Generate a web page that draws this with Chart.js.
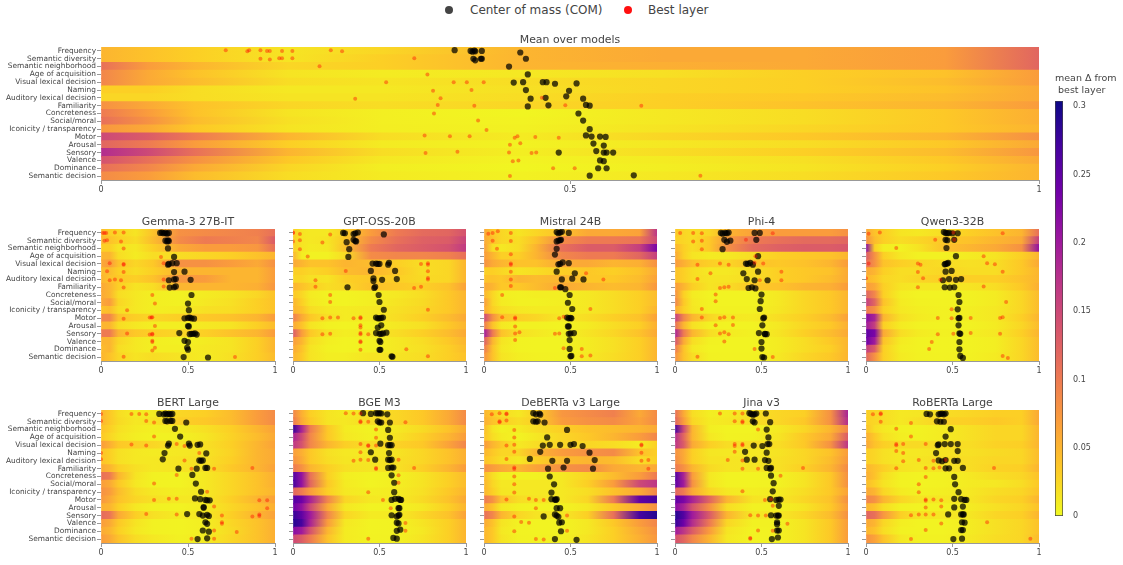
<!DOCTYPE html>
<html><head><meta charset="utf-8">
<style>
html,body{margin:0;padding:0;background:#fff;overflow:hidden;width:1123px;height:565px}
canvas{position:absolute;display:block}
#lg{position:absolute;left:0;top:0;font:12px "DejaVu Sans",sans-serif;color:#444}
#lg span{position:absolute;white-space:nowrap;line-height:20px;top:0}
#lg i{position:absolute;width:8px;height:8px;border-radius:50%;top:6px}
</style>
<script src="https://cdn.jsdelivr.net/npm/chart.js@4"></script>
</head><body>
<div id="lg"></div>
<script>
const categories=["Frequency","Semantic diversity","Semantic neighborhood","Age of acquisition","Visual lexical decision","Naming","Auditory lexical decision","Familiarity","Concreteness","Social/moral","Iconicity / transparency","Motor","Arousal","Sensory","Valence","Dominance","Semantic decision"];
const heatStops=[0,.05,.1,.2,.3,.45,.6,.75,.9,1];
const colorTicks=[0,.05,.1,.15,.2,.25,.3];
const xTicks=[0,.5,1];

const mainHeat=[[.05,.04,.03,.015,.025,.05,.06,.06,.07,.12],[.05,.04,.03,.015,.03,.05,.06,.06,.07,.12],[.11,.07,.05,.025,.03,.05,.055,.06,.07,.12],[.09,.06,.04,.015,.01,.012,.018,.03,.04,.07],[.09,.06,.045,.02,.015,.02,.025,.03,.045,.07],[.03,.03,.02,.012,.012,.018,.025,.03,.04,.06],[.025,.025,.02,.015,.015,.02,.03,.035,.045,.06],[.08,.06,.04,.025,.02,.025,.03,.04,.05,.07],[.10,.07,.04,.015,.007,.003,.012,.02,.035,.055],[.11,.08,.045,.018,.007,.004,.012,.02,.035,.055],[.075,.06,.035,.015,.008,.006,.015,.025,.035,.05],[.15,.13,.10,.05,.02,.01,.025,.035,.05,.08],[.12,.10,.07,.03,.01,.005,.012,.02,.035,.06],[.18,.15,.11,.05,.02,.008,.02,.03,.045,.075],[.14,.11,.08,.035,.012,.004,.01,.018,.035,.06],[.11,.09,.06,.025,.008,.003,.008,.015,.03,.05],[.085,.07,.045,.02,.01,.006,.012,.02,.035,.05]];
const gemmaHeat=[[.045,.03,.025,.015,.04,.08,.085,.09,.095,.11],[.05,.04,.03,.02,.045,.085,.1,.095,.09,.13],[.03,.03,.015,.012,.03,.06,.07,.07,.075,.11],[.05,.05,.02,.01,.02,.02,.025,.03,.04,.05],[.06,.07,.04,.025,.035,.08,.08,.07,.06,.08],[.045,.045,.03,.02,.03,.05,.05,.05,.05,.07],[.05,.04,.035,.03,.04,.075,.07,.05,.05,.07],[.06,.05,.03,.015,.02,.05,.05,.05,.055,.075],[.06,.05,.02,.012,.008,.006,.01,.015,.025,.04],[.06,.07,.025,.012,.008,.006,.012,.018,.03,.04],[.04,.045,.02,.012,.008,.01,.018,.02,.03,.04],[.09,.09,.04,.03,.025,.03,.035,.04,.05,.07],[.05,.05,.02,.012,.008,.008,.012,.015,.03,.045],[.10,.10,.05,.035,.03,.025,.03,.04,.05,.07],[.05,.05,.025,.012,.008,.006,.01,.015,.03,.05],[.045,.05,.02,.012,.008,.008,.012,.015,.03,.05],[.05,.04,.025,.015,.02,.015,.01,.018,.03,.045]];
const gptHeat=[[.03,.015,.012,.012,.03,.07,.1,.115,.12,.14],[.03,.015,.012,.015,.035,.085,.11,.125,.13,.155],[.03,.015,.01,.012,.04,.1,.12,.13,.14,.165],[.05,.01,.006,.006,.02,.085,.09,.09,.095,.11],[.06,.05,.04,.04,.05,.045,.03,.02,.025,.05],[.03,.03,.025,.03,.045,.05,.035,.02,.025,.05],[.025,.025,.018,.015,.03,.035,.03,.022,.025,.05],[.05,.04,.03,.02,.025,.04,.035,.03,.04,.065],[.035,.025,.01,.005,.004,.008,.012,.02,.035,.05],[.05,.03,.012,.006,.004,.008,.015,.022,.035,.05],[.05,.04,.02,.012,.01,.012,.018,.025,.035,.05],[.095,.06,.035,.018,.01,.012,.02,.03,.045,.06],[.06,.04,.015,.006,.004,.006,.012,.018,.035,.05],[.13,.07,.035,.015,.008,.012,.02,.03,.045,.06],[.07,.05,.02,.008,.004,.006,.012,.02,.035,.05],[.06,.04,.015,.006,.004,.006,.012,.018,.03,.045],[.05,.035,.015,.008,.008,.015,.015,.02,.03,.04]];
const mistralHeat=[[.06,.035,.025,.015,.025,.04,.06,.06,.065,.17],[.06,.04,.025,.02,.04,.085,.1,.1,.105,.15],[.07,.02,.012,.02,.05,.11,.13,.13,.16,.23],[.07,.05,.03,.03,.05,.09,.1,.1,.12,.16],[.08,.06,.05,.04,.04,.06,.06,.05,.055,.08],[.03,.03,.025,.015,.02,.03,.035,.03,.04,.06],[.04,.04,.035,.05,.045,.05,.035,.035,.045,.065],[.06,.05,.035,.035,.045,.06,.05,.045,.05,.075],[.05,.025,.008,.006,.008,.008,.012,.02,.03,.045],[.07,.025,.01,.006,.006,.008,.012,.02,.03,.045],[.06,.03,.018,.012,.01,.01,.012,.02,.03,.05],[.15,.08,.04,.03,.025,.012,.02,.03,.04,.065],[.10,.04,.012,.006,.006,.004,.01,.02,.03,.055],[.20,.10,.04,.018,.012,.006,.015,.025,.04,.06],[.13,.05,.015,.005,.004,.004,.01,.018,.03,.05],[.10,.04,.012,.005,.004,.004,.01,.018,.03,.05],[.08,.04,.015,.008,.006,.005,.012,.02,.03,.05]];
const phiHeat=[[.035,.025,.02,.025,.05,.065,.07,.07,.07,.08],[.03,.025,.02,.035,.07,.10,.11,.115,.115,.12],[.05,.03,.02,.035,.08,.115,.125,.13,.13,.135],[.06,.03,.015,.01,.012,.02,.03,.035,.04,.05],[.07,.055,.04,.03,.025,.04,.035,.04,.05,.07],[.04,.03,.02,.012,.012,.02,.03,.035,.04,.06],[.04,.03,.02,.015,.015,.02,.03,.035,.045,.06],[.07,.05,.03,.015,.02,.035,.04,.05,.055,.07],[.08,.03,.01,.004,.004,.004,.012,.025,.035,.05],[.09,.035,.012,.005,.004,.004,.012,.025,.035,.05],[.06,.03,.014,.006,.006,.006,.014,.025,.035,.05],[.16,.09,.05,.025,.012,.01,.02,.03,.045,.065],[.11,.05,.018,.006,.004,.004,.012,.025,.035,.055],[.19,.1,.05,.02,.01,.006,.015,.03,.045,.06],[.14,.06,.02,.006,.004,.004,.01,.02,.035,.05],[.10,.04,.012,.004,.004,.004,.01,.02,.03,.05],[.08,.04,.02,.006,.005,.005,.012,.025,.035,.05]];
const qwenHeat=[[.06,.04,.03,.015,.012,.02,.03,.04,.05,.11],[.08,.045,.03,.02,.025,.035,.04,.05,.06,.16],[.22,.03,.008,.006,.015,.04,.05,.06,.08,.21],[.13,.08,.03,.012,.006,.006,.01,.015,.03,.05],[.11,.08,.04,.03,.025,.02,.018,.02,.035,.06],[.06,.05,.03,.02,.02,.025,.02,.02,.035,.05],[.05,.04,.025,.02,.025,.03,.03,.03,.04,.05],[.07,.06,.03,.015,.012,.012,.015,.02,.035,.055],[.12,.09,.03,.008,.004,.004,.006,.01,.025,.045],[.16,.12,.04,.01,.006,.005,.006,.01,.025,.045],[.10,.08,.03,.012,.008,.006,.008,.012,.025,.045],[.22,.19,.05,.018,.01,.006,.008,.012,.03,.05],[.20,.16,.03,.01,.005,.004,.005,.01,.025,.045],[.25,.23,.06,.02,.01,.006,.008,.012,.03,.05],[.24,.2,.04,.01,.005,.004,.005,.008,.025,.045],[.16,.13,.03,.008,.005,.004,.005,.008,.025,.045],[.12,.08,.03,.01,.006,.005,.006,.01,.025,.045]];
const bertHeat=[[.05,.035,.02,.01,.01,.025,.03,.045,.07,.085],[.05,.035,.022,.012,.015,.03,.035,.045,.07,.085],[.04,.03,.018,.01,.007,.01,.018,.03,.05,.065],[.035,.025,.015,.008,.005,.006,.014,.028,.045,.06],[.07,.055,.035,.03,.025,.015,.018,.03,.05,.065],[.04,.03,.018,.012,.01,.012,.016,.028,.05,.06],[.04,.03,.018,.012,.012,.015,.018,.03,.05,.06],[.06,.05,.03,.018,.012,.015,.018,.035,.05,.065],[.11,.10,.05,.015,.006,.004,.012,.025,.04,.055],[.07,.06,.035,.012,.005,.004,.012,.025,.04,.055],[.08,.07,.045,.02,.012,.008,.012,.025,.04,.05],[.075,.06,.04,.025,.018,.012,.012,.03,.05,.065],[.055,.05,.03,.012,.006,.004,.01,.025,.04,.055],[.115,.105,.06,.03,.018,.01,.012,.03,.05,.065],[.07,.06,.035,.015,.006,.004,.008,.025,.04,.055],[.06,.05,.03,.012,.006,.004,.008,.022,.04,.055],[.07,.06,.04,.02,.012,.006,.01,.025,.04,.055]];
const bgeHeat=[[.09,.055,.03,.015,.01,.018,.025,.035,.06,.085],[.10,.06,.035,.015,.012,.02,.025,.035,.06,.085],[.28,.19,.10,.035,.01,.005,.012,.022,.04,.06],[.19,.15,.09,.035,.012,.006,.016,.03,.05,.07],[.17,.14,.09,.05,.03,.02,.028,.035,.065,.09],[.07,.055,.035,.018,.012,.012,.016,.025,.04,.055],[.08,.06,.035,.02,.014,.014,.018,.025,.04,.055],[.10,.08,.05,.03,.018,.014,.018,.03,.05,.07],[.26,.21,.11,.03,.008,.004,.006,.015,.03,.045],[.27,.21,.12,.035,.01,.004,.008,.016,.03,.045],[.12,.10,.07,.03,.012,.008,.01,.018,.035,.05],[.26,.24,.19,.09,.025,.012,.01,.022,.04,.06],[.24,.21,.15,.06,.012,.004,.005,.012,.03,.05],[.28,.25,.20,.09,.025,.01,.01,.025,.04,.065],[.29,.27,.19,.07,.012,.004,.005,.015,.03,.05],[.22,.20,.14,.05,.01,.004,.005,.012,.03,.05],[.15,.13,.10,.04,.01,.005,.006,.015,.03,.05]];
const debertaHeat=[[.05,.035,.02,.012,.03,.075,.085,.095,.06,.085],[.055,.04,.03,.02,.03,.07,.08,.085,.065,.085],[.045,.015,.006,.01,.02,.03,.04,.045,.05,.06],[.04,.02,.01,.004,.012,.025,.035,.05,.07,.09],[.07,.05,.035,.012,.02,.025,.025,.02,.01,.03],[.05,.035,.025,.025,.05,.07,.08,.085,.04,.03],[.04,.03,.02,.012,.03,.045,.05,.045,.02,.03],[.08,.07,.06,.05,.065,.08,.085,.06,.05,.06],[.045,.02,.006,.005,.006,.012,.025,.045,.07,.10],[.05,.025,.012,.012,.012,.012,.03,.07,.15,.17],[.05,.03,.014,.012,.012,.012,.02,.04,.06,.09],[.10,.08,.04,.02,.015,.012,.025,.10,.25,.27],[.06,.04,.012,.006,.004,.004,.012,.035,.06,.08],[.11,.09,.05,.025,.015,.012,.03,.11,.27,.29],[.06,.04,.015,.006,.004,.004,.012,.035,.07,.09],[.05,.035,.012,.005,.004,.004,.012,.03,.06,.08],[.05,.035,.015,.006,.005,.006,.015,.03,.055,.075]];
const jinaHeat=[[.11,.06,.02,.008,.01,.018,.025,.03,.08,.19],[.12,.07,.025,.01,.012,.02,.025,.035,.08,.18],[.27,.15,.05,.008,.004,.004,.012,.025,.05,.09],[.18,.12,.05,.012,.005,.006,.015,.035,.06,.13],[.17,.13,.06,.03,.02,.02,.02,.035,.08,.17],[.08,.06,.03,.014,.012,.012,.016,.025,.04,.07],[.085,.06,.03,.016,.015,.014,.018,.025,.045,.075],[.10,.08,.05,.022,.015,.014,.018,.03,.05,.085],[.26,.19,.07,.012,.004,.004,.006,.015,.035,.08],[.25,.2,.08,.014,.005,.004,.006,.015,.035,.08],[.12,.1,.06,.025,.012,.008,.01,.02,.035,.065],[.25,.23,.19,.12,.05,.015,.012,.025,.04,.08],[.22,.19,.14,.08,.02,.006,.006,.015,.035,.07],[.29,.26,.20,.13,.05,.012,.012,.025,.045,.08],[.28,.24,.18,.10,.025,.006,.006,.015,.035,.07],[.2,.17,.13,.07,.015,.004,.006,.015,.035,.07],[.14,.12,.09,.05,.012,.004,.006,.015,.035,.07]];
const robertaHeat=[[.03,.025,.02,.012,.014,.02,.025,.03,.03,.06],[.03,.025,.02,.012,.018,.028,.03,.035,.03,.06],[.04,.02,.012,.006,.005,.01,.018,.025,.025,.05],[.055,.035,.018,.008,.006,.01,.018,.025,.025,.05],[.06,.04,.03,.022,.022,.02,.02,.028,.03,.05],[.03,.025,.018,.012,.012,.016,.018,.022,.025,.045],[.03,.025,.018,.012,.014,.02,.02,.025,.025,.045],[.05,.04,.03,.016,.012,.016,.02,.028,.03,.05],[.055,.04,.02,.006,.004,.006,.012,.02,.025,.04],[.045,.03,.016,.005,.004,.006,.01,.012,.02,.035],[.06,.05,.025,.01,.006,.008,.012,.02,.025,.04],[.09,.08,.05,.025,.015,.012,.014,.025,.03,.05],[.05,.04,.02,.006,.004,.005,.01,.018,.025,.04],[.12,.11,.075,.03,.016,.012,.014,.025,.03,.05],[.06,.05,.025,.008,.004,.004,.01,.018,.025,.04],[.05,.04,.02,.006,.004,.004,.01,.018,.025,.04],[.08,.065,.04,.012,.006,.006,.012,.02,.025,.045]];

const mainCom=[[.377,-.1],[.394,0],[.396,.1],[.398,-.05],[.399,.05],[.406,0],[.447,.2],[.397,1],[.399,1.2],[.405,1],[.406,1],[.453,1],[.435,2],[.455,3],[.44,4.05],[.45,4],[.471,4],[.475,4],[.484,4.2],[.507,4.15],[.453,5],[.499,5.1],[.496,5.8],[.458,6.1],[.474,6],[.514,6.1],[.517,6.9],[.521,7],[.455,7.1],[.477,6.95],[.509,8],[.514,8.9],[.521,10],[.517,10.8],[.523,10.95],[.532,10.95],[.538,11],[.525,11.85],[.536,12.1],[.488,13],[.528,12.8],[.536,13],[.539,13],[.546,13],[.532,14],[.536,14.1],[.53,15],[.539,15],[.521,15.95],[.568,15.9]];
const mainBest=[[.133,-.1],[.156,.05],[.158,-.1],[.17,-.1],[.177,0],[.18,0],[.193,0],[.204,0],[.245,-.1],[.257,.05],[.17,1],[.18,1.1],[.19,.95],[.193,.95],[.204,.95],[.334,.95],[.233,1.95],[.348,3],[.304,4],[.376,4],[.39,4],[.408,4],[.354,5.1],[.395,5],[.271,6.1],[.362,6.05],[.47,6],[.359,6.9],[.398,7],[.495,6.95],[.576,7],[.355,8],[.402,8.9],[.411,10.1],[.345,10.8],[.372,10.9],[.393,10.9],[.441,11.1],[.444,10.9],[.463,11],[.488,11.1],[.436,12],[.447,11.8],[.346,13.05],[.38,12.9],[.435,13],[.459,13.05],[.464,13],[.439,14.1],[.445,14],[.482,15],[.505,15],[.436,16],[.639,15.95]];
const gemmaCom=[[.34,0],[.35,-.05],[.36,.05],[.37,0],[.38,.1],[.39,0],[.37,1],[.38,1.1],[.385,.95],[.39,1.05],[.385,2],[.42,3.1],[.385,4.1],[.39,4],[.41,3.9],[.435,3.9],[.42,5.05],[.48,5],[.39,6.1],[.42,6],[.43,5.95],[.515,6.05],[.395,7.05],[.42,7],[.43,6.9],[.52,8],[.50,9.1],[.505,9.95],[.48,11],[.50,10.95],[.51,10.9],[.52,11],[.535,11.05],[.50,12],[.505,12.05],[.45,12.9],[.51,13.05],[.52,13],[.53,13],[.54,12.95],[.55,13.1],[.48,13.9],[.50,14.05],[.495,14.8],[.50,15.05],[.475,16],[.615,16.05]];
const gemmaBest=[[.01,0],[.02,0],[.03,0],[.08,-.05],[.13,-.05],[.02,1],[.035,.95],[.115,1.1],[.13,2],[.345,3.1],[.05,3.9],[.13,4],[.13,4.1],[.36,3.9],[.035,4.95],[.13,5.05],[.05,6.1],[.08,6],[.115,6.1],[.36,6],[.13,7.05],[.36,6.9],[.295,8],[.31,9.1],[.15,9.95],[.13,11.05],[.28,10.9],[.29,10.9],[.295,10.85],[.31,12],[.15,12.95],[.28,13.1],[.295,13],[.295,13.1],[.295,13.9],[.295,14.05],[.31,14.8],[.295,15.15],[.13,15.95],[.77,16]];
const gptCom=[[.29,0],[.30,.05],[.35,.15],[.36,.05],[.375,-.05],[.525,.2],[.31,1.2],[.35,.9],[.36,1.05],[.365,1.1],[.325,2.1],[.32,3.1],[.46,3.95],[.48,3.95],[.49,4],[.50,4],[.55,4.1],[.555,3.85],[.45,4.9],[.59,4.9],[.465,5.85],[.465,6.2],[.515,6.05],[.60,5.95],[.315,7],[.47,7.1],[.475,6.95],[.495,8],[.50,8.9],[.525,9.9],[.48,10.9],[.49,11],[.50,11],[.51,10.95],[.52,10.9],[.49,12.2],[.51,11.9],[.48,12.9],[.50,13],[.51,13],[.52,12.95],[.54,12.85],[.50,13.9],[.505,14.05],[.50,15.05],[.505,15.05],[.57,15.9],[.575,15.95]];
const gptBest=[[0,-.05],[0,0],[.04,.15],[.215,.2],[0,1.1],[.04,.95],[.17,1.25],[.04,2.1],[.085,3.05],[.74,4],[.78,3.9],[.78,4.1],[.305,4.9],[.78,4.95],[.13,6.1],[.78,5.8],[.78,6],[.13,6.95],[.70,7.1],[.74,6.95],[.215,8],[.215,8.9],[.78,9.9],[.17,11],[.215,10.9],[.26,10.9],[.35,11],[.39,10.85],[.39,11],[.39,11.9],[.39,12.2],[.17,13.05],[.215,13],[.39,12.9],[.39,13.05],[.435,13.05],[.39,13.95],[.39,14.1],[.39,15.05],[.655,15],[.78,15.9]];
const mistralCom=[[.42,-.1],[.43,.05],[.44,-.05],[.45,-.15],[.49,0],[.42,1.1],[.43,1],[.44,.95],[.445,.9],[.42,2.05],[.41,2.8],[.43,4.05],[.44,4],[.455,3.8],[.49,3.9],[.42,5],[.525,5.2],[.45,6],[.51,5.9],[.575,6],[.44,7],[.445,7],[.47,7.25],[.495,8],[.485,9],[.51,9.8],[.48,10.9],[.49,11],[.50,10.95],[.505,11],[.49,12.05],[.485,12.05],[.49,13],[.50,12.95],[.52,12.9],[.495,13.8],[.495,14.95],[.505,15.85],[.50,15.9]];
const mistralBest=[[.025,.1],[.05,0],[.08,-.2],[.155,0],[.05,1],[.155,1.05],[.075,2.05],[.155,2.75],[.155,3.95],[.155,4.1],[.155,5],[.59,5.2],[.155,6],[.69,6],[.155,6.85],[.41,7.1],[.105,8],[.615,9.8],[.105,10.85],[.18,10.9],[.18,11.05],[.435,11],[.46,10.8],[.18,12.05],[.18,12.95],[.205,12.8],[.41,13],[.435,12.95],[.18,13.8],[.46,14.85],[.565,14.95],[.565,15.9],[.615,15.8]];
const phiCom=[[.265,0],[.275,.1],[.29,0],[.30,.05],[.31,-.05],[.46,0],[.49,0],[.285,.9],[.30,1.15],[.32,1],[.47,.9],[.275,2.1],[.48,3],[.41,3.95],[.42,4],[.435,3.85],[.45,4.1],[.395,5.2],[.48,5],[.415,5.95],[.46,6.1],[.535,6.1],[.425,7.1],[.445,7],[.465,7.15],[.50,7.95],[.495,8.8],[.49,9.8],[.515,10.9],[.51,11],[.505,11.9],[.485,12.9],[.52,13],[.53,13.05],[.52,13.05],[.50,14.05],[.50,14.9],[.505,16],[.515,16.05]];
const phiBest=[[.03,0],[.105,0],[.155,.05],[.565,.05],[.105,1.1],[.155,1],[.41,.9],[.155,2.1],[.465,3],[.13,4.1],[.26,3.95],[.31,4.1],[.46,3.85],[.51,3.95],[.205,5.2],[.615,5],[.13,5.95],[.49,6.1],[.615,6.1],[.26,7.1],[.285,7],[.31,6.95],[.235,7.95],[.235,8.8],[.155,9.8],[.155,10.9],[.26,10.95],[.285,10.85],[.335,10.9],[.235,11.9],[.335,11.85],[.26,12.95],[.285,12.8],[.31,13.05],[.285,14],[.46,14.95],[.13,15.95],[.565,16]];
const qwenCom=[[.45,-.1],[.46,0],[.47,.05],[.48,0],[.50,.05],[.53,.05],[.46,.9],[.47,.95],[.51,.9],[.465,1.95],[.52,3],[.455,4.05],[.46,4],[.47,3.95],[.475,3.85],[.46,5],[.495,4.9],[.445,6.1],[.48,5.95],[.52,6.05],[.55,5.95],[.455,7],[.485,7.05],[.51,7],[.535,8],[.54,8.9],[.53,9.85],[.54,10.95],[.535,11],[.535,11.9],[.54,12.95],[.545,13],[.54,14.05],[.54,15],[.545,15.85],[.56,16.1]];
const qwenBest=[[.015,.1],[.08,-.05],[.505,-.05],[.79,.05],[.40,.9],[.51,.9],[.175,1.95],[.68,3],[.015,3.95],[.30,3.95],[.315,4.1],[.70,3.9],[.745,4.05],[.30,5.05],[.79,5],[.0,5.85],[.33,5.85],[.43,6.05],[.30,7],[.68,6.9],[.81,8.9],[.495,9.85],[.415,10.95],[.495,11],[.605,10.95],[.775,10.95],[.79,10.85],[.415,13.05],[.505,13],[.605,12.9],[.775,13],[.38,14.05],[.365,14.95],[.79,15.85],[.82,16.1]];
const bertCom=[[.335,0],[.36,.05],[.37,-.05],[.38,.05],[.39,0],[.40,.05],[.41,0],[.37,.9],[.38,.95],[.40,.9],[.41,.9],[.49,1.1],[.425,1.9],[.455,2.9],[.385,4.05],[.39,3.8],[.505,3.8],[.51,4.05],[.555,3.95],[.57,3.9],[.365,5],[.605,5.05],[.355,5.8],[.565,5.95],[.575,6],[.585,5.95],[.445,7],[.55,7],[.60,6.9],[.61,6.9],[.525,7.8],[.545,8.9],[.575,9.95],[.54,10.8],[.57,10.9],[.60,11],[.61,11.05],[.625,11.05],[.59,11.9],[.59,12],[.495,12.8],[.565,12.8],[.585,13],[.61,12.9],[.62,13.05],[.60,13.85],[.61,14.05],[.585,14.9],[.62,15.05],[.555,16],[.61,15.9]];
const bertBest=[[0,0],[.175,0],[.22,0],[.26,.05],[0,.9],[.26,.9],[.305,1.1],[.305,2.9],[.175,3.9],[.26,4.05],[.435,3.85],[.48,4.1],[0,5],[.565,5],[0,5.8],[.48,5.95],[.52,7],[.65,7],[.87,6.9],[.435,7.8],[.305,8.9],[.61,9.95],[.305,11],[.39,10.85],[.435,10.85],[.91,11.05],[.955,11.05],[.65,11.85],[.955,12.05],[.26,12.8],[.435,12.85],[.695,13],[.87,13.1],[.91,12.85],[.91,13.05],[.695,13.85],[.695,14.05],[.65,14.9],[.78,15.1],[.52,15.95],[.65,15.95]];
const bgeCom=[[.405,-.1],[.45,0],[.48,-.1],[.49,-.05],[.50,-.1],[.51,-.05],[.545,.05],[.49,.95],[.50,1.1],[.51,1.1],[.56,1.1],[.55,2.05],[.56,3.05],[.505,3.8],[.55,4],[.56,4],[.57,4],[.45,4.9],[.555,5],[.475,5.85],[.55,5.85],[.56,5.9],[.57,5.85],[.55,6.9],[.57,6.85],[.58,6.85],[.57,7.85],[.585,8.8],[.585,10],[.57,11],[.59,10.85],[.61,10.85],[.62,11],[.625,11],[.61,12.05],[.615,12.05],[.57,12.95],[.60,13.1],[.61,13],[.615,12.9],[.60,13.9],[.61,14],[.60,14.95],[.62,14.8],[.58,15.85],[.60,15.95]];
const bgeBest=[[.305,-.1],[.35,-.05],[.39,-.05],[.39,.95],[.39,1.05],[.435,1],[.65,1.05],[.48,2],[.48,3.05],[.39,3.85],[.435,4],[.435,4.1],[.48,4.05],[.39,4.9],[.35,6],[.39,5.85],[.435,5.9],[.61,5.85],[.48,6.9],[.48,7.05],[.70,6.9],[.61,7.85],[.61,8.8],[.435,10],[.52,11],[.565,12.05],[.65,13.95],[.65,14.95],[.435,15.95]];
const debertaCom=[[.285,-.1],[.30,.05],[.32,-.05],[.325,.1],[.285,.95],[.30,1],[.31,.95],[.35,1.1],[.48,2.05],[.365,3],[.34,4.05],[.38,3.95],[.44,3.95],[.50,3.95],[.52,3.85],[.57,4.1],[.325,4.85],[.61,4.95],[.265,5.75],[.395,6],[.48,6],[.64,5.9],[.37,7],[.46,6.85],[.63,7],[.38,8],[.405,9],[.39,10.05],[.39,10.9],[.41,10.95],[.415,11],[.42,10.9],[.42,12.05],[.44,12.05],[.345,13.1],[.41,12.85],[.42,13],[.43,13.15],[.435,13.9],[.45,13.85],[.445,15],[.41,16],[.535,16.1]];
const debertaBest=[[.045,.05],[.09,-.1],[.13,-.05],[.13,.05],[.09,.95],[.09,1.05],[.13,.85],[.175,2.05],[.175,3],[.13,4.05],[.175,3.95],[.91,3.9],[.91,4.05],[.175,4.85],[.91,4.95],[.13,5.75],[.91,6],[.95,5.9],[.175,6.85],[.175,7.05],[.95,7],[.175,8],[.175,9],[.175,10.05],[.13,10.95],[.26,10.85],[.30,11],[.345,11],[.30,12.05],[.175,13.1],[.48,13],[.215,13.8],[.26,13.9],[.175,15],[.48,14.95],[.30,16],[.345,16.05]];
const jinaCom=[[.43,-.1],[.44,0],[.45,.1],[.46,.05],[.47,-.05],[.525,-.05],[.45,.95],[.46,1.1],[.55,1.05],[.53,2],[.54,3],[.455,4.05],[.505,4.1],[.535,3.85],[.545,3.85],[.405,4.85],[.53,4.95],[.415,5.85],[.46,5.85],[.52,5.9],[.54,6],[.53,6.9],[.55,7],[.555,6.9],[.555,7.9],[.57,8.85],[.565,9.9],[.55,10.9],[.585,11],[.60,10.95],[.61,10.95],[.60,11.75],[.555,12.95],[.585,13],[.595,13],[.60,13],[.59,13.85],[.59,14.1],[.59,14.9],[.60,14.9],[.56,16],[.595,15.8]];
const jinaBest=[[.26,-.05],[.345,-.05],[.39,-.05],[.345,.95],[.39,.95],[.39,1.1],[.48,2],[.345,3.85],[.345,4.1],[.39,3.85],[.39,4],[.345,4.85],[.305,5.9],[.39,5.95],[.39,7],[.48,7],[.74,6.9],[.61,7.9],[.39,9.9],[.52,11],[.555,10.9],[.565,11.75],[.435,12.95],[.48,13],[.525,13],[.65,14.05],[.48,14.9],[.565,14.95],[.435,15.85],[.435,15.95]];
const robertaCom=[[.35,0],[.37,.05],[.42,.05],[.43,0],[.44,-.05],[.45,.05],[.46,-.05],[.41,.95],[.43,1],[.45,1],[.49,1.95],[.46,2.9],[.415,4],[.42,3.9],[.455,3.85],[.49,3.85],[.53,3.85],[.405,5],[.53,4.75],[.42,5.95],[.44,6.05],[.46,5.9],[.51,6],[.53,6],[.46,6.95],[.48,6.95],[.56,6.9],[.51,8.05],[.515,9],[.535,10],[.51,10.85],[.55,10.9],[.57,11],[.58,11],[.51,11.95],[.56,11.85],[.475,12.85],[.55,12.85],[.56,12.85],[.565,12.85],[.555,13.85],[.57,13.9],[.55,14.85],[.56,14.85],[.505,16],[.555,15.95]];
const robertaBest=[[.04,.05],[.085,-.1],[.085,.05],[.085,1],[.26,1.15],[.175,1.9],[.26,2.9],[.175,3.85],[.175,4],[.215,3.85],[.345,3.85],[.175,4.75],[.215,5],[.215,6.05],[.305,5.9],[.39,6],[.46,5.9],[.175,6.95],[.345,6.9],[.39,6.95],[.425,6.85],[.74,6.9],[.345,8.05],[.305,9],[.305,10],[.345,10.95],[.345,11.1],[.39,10.95],[.435,11.05],[.345,11.95],[.435,11.85],[.26,12.95],[.305,12.85],[.345,12.85],[.39,12.85],[.435,14],[.70,13.85],[.345,14.85],[.26,16],[.95,15.95]];

const plasma=[[0,"#f0f921"],[.111,"#fdca26"],[.222,"#fb9f3a"],[.333,"#ed7953"],[.444,"#d8576b"],[.556,"#bd3786"],[.667,"#9c179e"],[.778,"#7201a8"],[.889,"#46039f"],[1,"#0d0887"]];
const zMax=.304, FONT='"DejaVu Sans",sans-serif', INK='#444', AXIS='#999';
const COM_COLOR='rgba(0,0,0,.72)', BEST_COLOR='rgba(255,0,0,.4)';
function rgb(h){return [1,3,5].map(i=>parseInt(h.substr(i,2),16));}
function colorOf(v){
  const t=Math.min(1,Math.max(0,v/zMax));
  let i=0; while(i<plasma.length-2&&t>plasma[i+1][0])i++;
  const a=rgb(plasma[i][1]),b=rgb(plasma[i+1][1]),f=(t-plasma[i][0])/(plasma[i+1][0]-plasma[i][0]);
  return 'rgb('+a.map((c,k)=>Math.round(c+(b[k]-c)*f)).join(',')+')';
}
function pts(list){return list.map(p=>({x:p[0],y:p[1]}));}

function panel(o){
  const L=o.labels?101:10,R=14,B=22,T=13,W=o.r-o.l,H=o.b-o.t;
  const c=document.createElement('canvas');
  c.width=L+W+R;c.height=T+H+B;
  c.style.left=(o.l-L)+'px';c.style.top=(o.t-T)+'px';
  c.style.width=c.width+'px';c.style.height=c.height+'px';
  document.body.appendChild(c);
  new Chart(c,{type:'bar',
    data:{datasets:[
      {type:'bar',label:'heat',order:3,indexAxis:'y',xAxisID:'x',yAxisID:'y',
       data:categories.map((_,i)=>({x:[0,1],y:i})),barThickness:H/categories.length+.6,borderWidth:0,
       backgroundColor(ctx){
         if(ctx.dataIndex==null||!ctx.chart.chartArea)return 'transparent';
         const s=ctx.chart.scales.x,g=ctx.chart.ctx.createLinearGradient(s.getPixelForValue(0),0,s.getPixelForValue(1),0);
         heatStops.forEach((p,i)=>g.addColorStop(p,colorOf(o.heat[ctx.dataIndex][i])));
         return g;
       }},
      {type:'scatter',label:'Center of mass (COM)',order:2,indexAxis:'x',xAxisID:'x',yAxisID:'y',data:pts(o.com),
       pointRadius:3.1,pointBorderWidth:0,pointBackgroundColor:COM_COLOR,showLine:false},
      {type:'scatter',label:'Best layer',order:1,indexAxis:'x',xAxisID:'x',yAxisID:'y',data:pts(o.best),
       pointRadius:2,pointBorderWidth:0,pointBackgroundColor:BEST_COLOR,showLine:false}
    ]},
    options:{indexAxis:'y',responsive:false,animation:false,devicePixelRatio:1,events:[],
      layout:{padding:{right:R}},
      plugins:{legend:{display:false},tooltip:{enabled:false},
        title:{display:true,fullSize:false,text:o.title,color:INK,font:{family:FONT,size:10.9,weight:'normal',lineHeight:1.1},padding:{top:0,bottom:T-11.99}}},
      scales:{
        x:{type:'linear',position:'bottom',min:0,max:1,
           afterFit(s){s.height=B;},
           afterBuildTicks(s){s.ticks=xTicks.map(v=>({value:v}));},
           border:{color:AXIS,width:1},
           grid:{drawOnChartArea:false,drawTicks:true,tickLength:4,color:AXIS},
           ticks:{font:{family:FONT,size:8},color:INK,padding:1,maxRotation:0,autoSkip:false,callback:v=>String(v)}},
        y:{type:'linear',position:'left',reverse:true,offset:false,beginAtZero:false,min:-.5,max:categories.length-.5,
           afterFit(s){s.width=L;},
           afterBuildTicks(s){s.ticks=categories.map((_,i)=>({value:i}));},
           border:{display:false},
           grid:{offset:false,drawOnChartArea:false,drawTicks:true,tickLength:4,color:AXIS},
           ticks:{font:{family:FONT,size:7.4},color:INK,padding:1,autoSkip:false,maxRotation:0,
             callback(v){return o.labels?categories[v]:'';}}}
      }}});
}

[
 {title:'Mean over models',heat:mainHeat,com:mainCom,best:mainBest,l:101,r:1039,t:47,b:180,labels:true},
 {title:'Gemma-3 27B-IT',heat:gemmaHeat,com:gemmaCom,best:gemmaBest,l:101,r:275,t:229,b:361,labels:true},
 {title:'GPT-OSS-20B',heat:gptHeat,com:gptCom,best:gptBest,l:293,r:466,t:229,b:361},
 {title:'Mistral 24B',heat:mistralHeat,com:mistralCom,best:mistralBest,l:484,r:657,t:229,b:361},
 {title:'Phi-4',heat:phiHeat,com:phiCom,best:phiBest,l:675,r:848,t:229,b:361},
 {title:'Qwen3-32B',heat:qwenHeat,com:qwenCom,best:qwenBest,l:866,r:1039,t:229,b:361},
 {title:'BERT Large',heat:bertHeat,com:bertCom,best:bertBest,l:101,r:275,t:410,b:543,labels:true},
 {title:'BGE M3',heat:bgeHeat,com:bgeCom,best:bgeBest,l:293,r:466,t:410,b:543},
 {title:'DeBERTa v3 Large',heat:debertaHeat,com:debertaCom,best:debertaBest,l:484,r:657,t:410,b:543},
 {title:'Jina v3',heat:jinaHeat,com:jinaCom,best:jinaBest,l:675,r:848,t:410,b:543},
 {title:'RoBERTa Large',heat:robertaHeat,com:robertaCom,best:robertaBest,l:866,r:1039,t:410,b:543}
].forEach(panel);

/* colour bar */
(function(){
  const c=document.createElement('canvas');
  c.width=68;c.height=453;
  c.style.left='1055px';c.style.top='73px';c.style.width='68px';c.style.height='453px';
  document.body.appendChild(c);
  new Chart(c,{type:'bar',
    data:{labels:[''],datasets:[{data:[[0,zMax]],barPercentage:1,categoryPercentage:1,borderWidth:1,borderColor:INK,borderSkipped:false,
      backgroundColor(ctx){
        if(!ctx.chart.chartArea)return 'transparent';
        const s=ctx.chart.scales.y,g=ctx.chart.ctx.createLinearGradient(0,s.getPixelForValue(0),0,s.getPixelForValue(zMax));
        plasma.forEach(p=>g.addColorStop(p[0],p[1]));
        return g;
      }}]},
    options:{responsive:false,animation:false,devicePixelRatio:1,events:[],
      layout:{padding:{bottom:10}},
      plugins:{legend:{display:false},tooltip:{enabled:false},
        title:{display:true,align:'start',text:['mean Δ from',' best layer'],color:INK,
          font:{family:FONT,size:9.5,weight:'normal',lineHeight:1.26},padding:{top:0,bottom:4}}},
      scales:{
        x:{display:false},
        y:{type:'linear',position:'right',min:0,max:zMax,
          afterFit(s){s.width=60;},
          afterBuildTicks(s){s.ticks=colorTicks.map(v=>({value:v}));},
          border:{display:false},grid:{display:false},
          ticks:{font:{family:FONT,size:8},color:INK,padding:2,callback:v=>String(v)}}
      }}});
})();

/* legend */
const legendItems=[['Center of mass (COM)','#444444',445,470],['Best layer','#ff1010',624,648]];
const lg=document.getElementById('lg');
legendItems.forEach(it=>{
  const d=document.createElement('i');d.style.left=it[2]+'px';d.style.background=it[1];lg.appendChild(d);
  const s=document.createElement('span');s.style.left=it[3]+'px';s.textContent=it[0];lg.appendChild(s);
});
</script>
</body></html>
